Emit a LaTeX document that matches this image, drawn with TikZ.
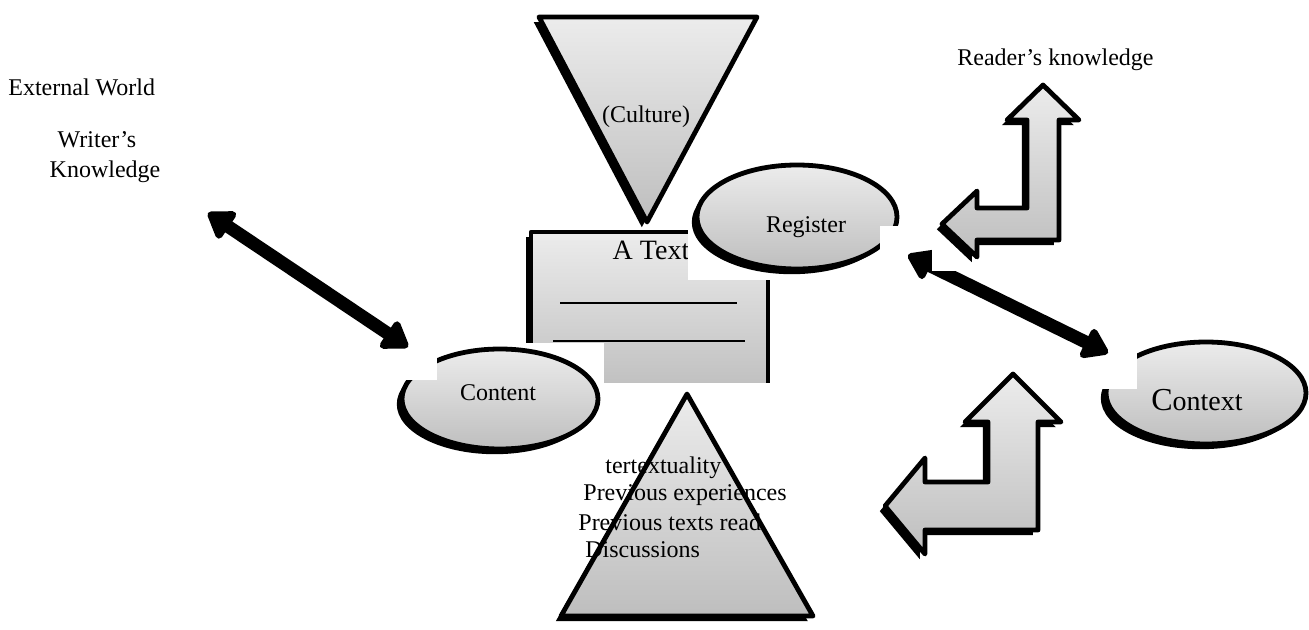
\documentclass[tikz,border=0pt]{standalone}
\usepackage{fontspec}
\setmainfont{Liberation Serif}
\usepackage{tikz}
\usetikzlibrary{positioning, arrows.meta, shapes.geometric, shadows}
\definecolor{shadetop}{HTML}{ECECEC}
\definecolor{shadebot}{HTML}{BEBEBE}

\tikzset{
  gshape/.style={draw=black, line width=2.4pt, line join=round,
    top color=shadetop, bottom color=shadebot,
    drop shadow={shadow xshift=-2.6pt, shadow yshift=-2.6pt, fill=black, opacity=1}},
  blob/.style={gshape, ellipse, inner sep=0pt},
  lbl/.style={font=\fontsize{12}{14}\selectfont, inner sep=0pt},
  patch/.style={fill=white, draw=none},
  dbl/.style={line width=6.5pt,
    {Triangle[length=14pt, width=18pt, round]}-{Triangle[length=14pt, width=18pt, round]}},
}

\begin{document}
\begin{tikzpicture}[x=0.5pt, y=-0.5pt]
  \useasboundingbox (0,0) rectangle (1309,630);

  % culture funnel
  \filldraw[gshape] (539,17) -- (757,17) -- (647,222) -- cycle;
  \node[lbl] (culture) at (646,117) {(Culture)};

  % the text box
  \filldraw[gshape] (531,232) rectangle (768,394);
  \node[lbl, font=\fontsize{14}{16}\selectfont] (atext) at (651,250) {A Text};
  \draw[line width=0.6pt] (560,303) -- (737,303);
  \draw[line width=0.6pt] (553,341) -- (745,341);

  % intertextuality
  \fill[patch] (548,383) rectangle (824,630);
  \filldraw[gshape] (687,394) -- (813,616) -- (561,616) -- cycle;
  \node[lbl, anchor=west] (intertext) at (605,468) {tertextuality};
  \node[lbl, anchor=west] (prevexp) at (583,495) {Previous experiences};
  \node[lbl, anchor=west] (prevtexts) at (578,522) {Previous texts read};
  \node[lbl, anchor=west] (discuss) at (585,550) {Discussions};

  \fill[patch] (688,158) rectangle (905,280);
  \node[blob, minimum width=100pt, minimum height=52pt] (register) at (797,217) {};
  \node[lbl] (registertext) at (806,227) {Register};

  \fill[patch] (392,343) rectangle (604,462);
  \node[blob, minimum width=98pt, minimum height=50pt] (content) at (500,399) {};
  \node[lbl] (contenttext) at (498,393) {Content};

  \node[blob, minimum width=100pt, minimum height=51pt] (context) at (1206,393) {};
  \node[lbl] (contexttext) at (1197,400)
    {{\fontsize{16}{18}\selectfont C}{\fontsize{14}{16}\selectfont ontext}};

  % writer side
  \fill[patch] (198,203) rectangle (437,380);
  \coordinate (wkend) at (208,213);
  \coordinate (contentend) at (408,347);
  \draw[dbl] (wkend) -- (contentend);

  % reader side
  \fill[patch] (880,226) rectangle (1137,389);
  \coordinate (registerend) at (908,255);
  \coordinate (contextend) at (1108,353);
  \draw[dbl] (registerend) -- (contextend);

  \fill[patch] (932,78) rectangle (1090,271);
  \filldraw[gshape] (1043,85) -- (1079,120) -- (1059,120) -- (1059,240) -- (977,240)
    -- (977,257) -- (942,224) -- (977,191) -- (977,208) -- (1027,208) -- (1027,120)
    -- (1007,120) -- cycle;

  \filldraw[gshape] (1013,374) -- (1061,422) -- (1038,422) -- (1038,530) -- (925,530)
    -- (925,554) -- (885,506) -- (925,458) -- (925,482) -- (988,482) -- (988,422)
    -- (965,422) -- cycle;

  \node[lbl, anchor=west] (external) at (8,87) {External World};
  \node[lbl] (writer) at (97,140) {Writer’s};
  \node[lbl] (knowledge) at (105,172) {Knowledge};
  \node[lbl, anchor=west] (reader) at (957,60) {Reader’s knowledge};
\end{tikzpicture}
\end{document}
